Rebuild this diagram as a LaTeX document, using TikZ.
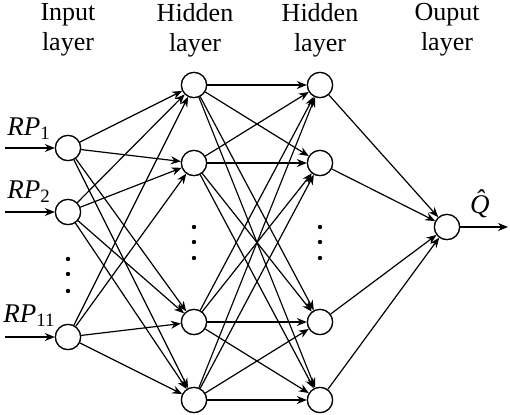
\documentclass[tikz,border=0pt]{standalone}
\usepackage{fontspec}
\setmainfont{Liberation Serif}
\usetikzlibrary{arrows.meta}
\begin{document}
\begin{tikzpicture}[x=0.5pt,y=-0.5pt,
  neuron/.style={circle,draw,line width=0.6pt,minimum size=12.6pt,inner sep=0pt,fill=white},
  conn/.style={-{Stealth[length=5pt,width=4pt]},line width=0.6pt},
  title/.style={align=center,font=\fontsize{13}{15}\selectfont,anchor=north,inner sep=0pt},
  lab/.style={font=\fontsize{13.5}{15}\selectfont,anchor=base west,inner sep=0pt},
  vdots/.style={circle,fill=black,inner sep=0pt,minimum size=2.2pt}]
\useasboundingbox (0,0) rectangle (510,414);
% titles
\node[title] (t1) at (68,3) {Input\\layer};
\node[title] (t2) at (195,3) {Hidden\\layer};
\node[title] (t3) at (320,3) {Hidden\\layer};
\node[title] (t4) at (447,3) {Ouput\\layer};
% input
\node[neuron] (i1) at (68,148) {};
\node[neuron] (i2) at (68,212) {};
\node[neuron] (i3) at (68,337) {};
% hidden 1
\node[neuron] (a1) at (194,85) {};
\node[neuron] (a2) at (194,163) {};
\node[neuron] (a3) at (194,322) {};
\node[neuron] (a4) at (194,400) {};
% hidden 2
\node[neuron] (b1) at (320,85) {};
\node[neuron] (b2) at (320,163) {};
\node[neuron] (b3) at (320,322) {};
\node[neuron] (b4) at (320,400) {};
% output
\node[neuron] (o) at (447,227) {};
% connections
\foreach \i in {i1,i2,i3}{\foreach \a in {a1,a2,a3,a4}{\draw[conn] (\i) -- (\a);}}
\foreach \a in {a1,a2,a3,a4}{\foreach \b in {b1,b2,b3,b4}{\draw[conn] (\a) -- (\b);}}
\foreach \b in {b1,b2,b3,b4}{\draw[conn] (\b) -- (o);}
% redraw nodes on top
\foreach \n/\x/\y in {i1/68/148,i2/68/212,i3/68/337,a1/194/85,a2/194/163,a3/194/322,a4/194/400,b1/320/85,b2/320/163,b3/320/322,b4/320/400,o/447/227}{\node[neuron] at (\x,\y) {};}
% inputs
\coordinate (s1) at (5,148);
\coordinate (s2) at (5,212);
\coordinate (s3) at (5,337);
\draw[conn] (s1) -- (i1);
\draw[conn] (s2) -- (i2);
\draw[conn] (s3) -- (i3);
\node[lab] (r1) at (7,135) {\textit{RP}\textsubscript{1}};
\node[lab] (r2) at (7,198) {\textit{RP}\textsubscript{2}};
\node[lab] (r3) at (3,322) {\textit{RP}\textsubscript{11}};
% output
\coordinate (e) at (508,227);
\draw[conn] (o) -- (e);
\node[lab,anchor=base] (q) at (485,213) {\textit{\^Q}};
% dots
\node[vdots] (d1) at (68,259) {};
\node[vdots] (d2) at (68,274) {};
\node[vdots] (d3) at (68,291) {};
\node[vdots] (h1) at (194,227) {};
\node[vdots] (h2) at (194,242) {};
\node[vdots] (h3) at (194,258) {};
\node[vdots] (g1) at (320,227) {};
\node[vdots] (g2) at (320,242) {};
\node[vdots] (g3) at (320,258) {};
\end{tikzpicture}
\end{document}
